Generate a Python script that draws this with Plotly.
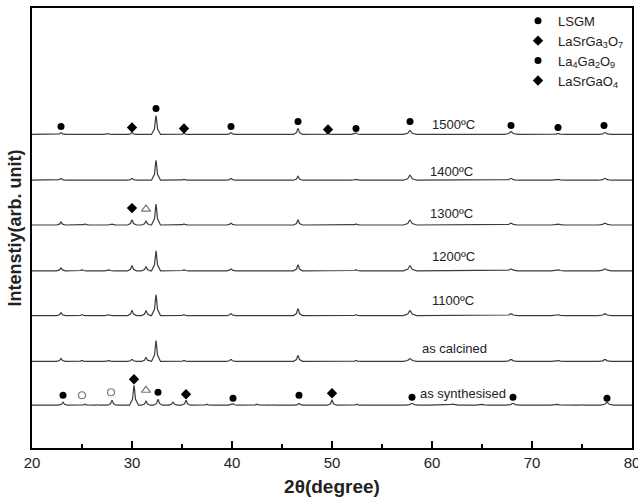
import plotly.graph_objects as go

# ---- data -----------------------------------------------------------------
TWO_THETA_RANGE = [20, 80]
PATTERN_NAMES = ["as synthesised", "as calcined", "1100ºC", "1200ºC",
                 "1300ºC", "1400ºC", "1500ºC"]
# vertical stacking offset of each pattern (arb. units)
OFFSETS = [43, 87, 133, 178, 224, 269, 315]

# reflections of each pattern: 2θ position (deg) and intensity (arb. units)
POS_SYN = [21.5, 23.1, 25.3, 26.5, 28.0, 30.2, 31.4, 32.6, 34.1, 35.4, 37.5,
           40.1, 42.5, 44.0, 46.7, 48.5, 50.0, 52.5, 55.0, 58.0, 60.5, 62.0,
           65.0, 68.1, 70.5, 72.5, 75.0, 77.5]
H_SYN = [0.5, 3, 1, 0.5, 5, 20, 4, 6, 3, 5, 1, 1.5, 1, 0.5, 2, 0.5, 5, 1,
         0.5, 2, 0.5, 1, 1, 2, 0.5, 1, 0.5, 3]

POS_CAL = [22.9, 25.0, 27.7, 30.0, 31.4, 32.4, 35.2, 37.0, 39.9, 43.5, 46.6,
           49.6, 52.4, 55.0, 57.8, 62.0, 65.5, 67.9, 72.6, 77.3]
H_CAL = [3, 1, 1, 2, 4, 21, 1, 0.5, 2, 0.5, 6, 0.5, 1, 0.5, 3, 0.5, 0.5,
         2, 1, 2]

POS_1100 = [22.9, 25.0, 27.7, 30.0, 31.4, 32.4, 35.2, 39.9, 43.5, 46.6,
            49.6, 52.4, 57.8, 62.0, 67.9, 72.6, 77.3]
H_1100 = [3, 1, 1, 5, 5, 21, 1, 2, 0.5, 7, 0.5, 1, 5, 0.5, 2, 1, 2]

POS_1200 = [22.9, 25.0, 27.7, 30.0, 31.4, 32.4, 35.2, 39.9, 43.5, 46.6,
            49.6, 52.4, 57.8, 62.0, 67.9, 72.6, 77.3]
H_1200 = [3, 1, 1, 5, 4, 20, 1, 2, 0.5, 6, 0.5, 1, 5, 0.5, 2, 1, 2]

POS_1300 = [22.9, 25.3, 28.0, 30.0, 31.4, 32.4, 35.2, 39.9, 43.5, 46.6,
            49.6, 52.4, 57.8, 62.0, 67.9, 72.6, 77.3]
H_1300 = [3, 1, 1, 5, 4, 21, 1, 2, 0.5, 5, 0.5, 1, 5, 0.5, 2, 1, 2]

POS_1400 = [22.9, 27.6, 30.0, 32.4, 35.2, 39.9, 46.6, 49.6, 52.4, 57.8,
            62.0, 67.9, 72.6, 77.3]
H_1400 = [2, 0.5, 2, 20, 1, 2, 4, 0.5, 1, 5, 0.5, 2, 1, 2]

POS_1500 = [22.9, 27.6, 30.0, 32.4, 35.2, 39.9, 43.5, 46.6, 49.6, 52.4,
            55.0, 57.8, 62.0, 67.9, 72.6, 77.3]
H_1500 = [2, 1, 2, 19, 1, 2, 0.5, 6, 1, 1.5, 0.5, 4, 0.5, 3, 1, 2]

PEAK_POS = [POS_SYN, POS_CAL, POS_1100, POS_1200, POS_1300, POS_1400, POS_1500]
PEAK_H = [H_SYN, H_CAL, H_1100, H_1200, H_1300, H_1400, H_1500]

# pattern label anchors (2θ, intensity above the pattern baseline)
LABEL_2THETA = [58.6, 58.8, 59.8, 59.8, 59.6, 59.6, 59.8]
LABEL_LIFT = [12, 13, 15, 14, 12, 9, 10]

# phase markers (2θ, intensity)
LSGM_2THETA = [22.9, 32.4, 39.9, 46.6, 52.4, 57.8, 67.9, 72.6, 77.2,
               23.1, 32.6, 40.1, 46.7, 58.0, 68.1, 77.5]
LSGM_I = [323, 341, 323, 328, 321, 328, 324, 322, 324,
          53, 56, 50, 53, 51, 51, 50]
LSG3_2THETA = [30.0, 35.2, 49.6, 30.0, 30.2, 35.4, 50.0]
LSG3_I = [322, 321, 320, 241, 69, 54, 55]
OPEN_CIRCLE_2THETA = [25.0, 27.9]
OPEN_CIRCLE_I = [53, 56]
OPEN_TRIANGLE_2THETA = [31.4, 31.4]
OPEN_TRIANGLE_I = [240, 58]

X_TICKS = [20, 30, 40, 50, 60, 70, 80]

# ---- figure ---------------------------------------------------------------
HALF_WIDTH = 0.45
FONT = "Liberation Sans, Arial, sans-serif"
LINE_COLOR = "#3c3c3c"
TEXT_COLOR = "#222222"


def profile(positions, heights, offset):
    """Polyline of a diffraction pattern built from its reflection list."""
    xs, ys = [TWO_THETA_RANGE[0]], [offset]
    for p, h in sorted(zip(positions, heights)):
        w = HALF_WIDTH * (1.0 + 0.5 * (p > 55))
        xs += [p - w, p - w / 3, p - w / 10, p, p + w / 10, p + w / 3, p + w]
        ys += [offset, offset + 0.3 * h, offset + 0.85 * h, offset + h,
               offset + 0.85 * h, offset + 0.3 * h, offset]
    xs.append(TWO_THETA_RANGE[1])
    ys.append(offset)
    return xs, ys


fig = go.Figure()

for pos, hts, off in zip(PEAK_POS, PEAK_H, OFFSETS):
    x, y = profile(pos, hts, off)
    fig.add_trace(go.Scatter(x=x, y=y, mode="lines",
                             line=dict(color=LINE_COLOR, width=1.2),
                             showlegend=False, hoverinfo="skip"))

fig.add_trace(go.Scatter(x=LSGM_2THETA, y=LSGM_I, mode="markers", name="LSGM",
                         marker=dict(symbol="circle", size=7, color="black")))
fig.add_trace(go.Scatter(x=LSG3_2THETA, y=LSG3_I, mode="markers",
                         name="LaSrGa<sub>3</sub>O<sub>7</sub>",
                         marker=dict(symbol="diamond", size=8, color="black")))
fig.add_trace(go.Scatter(x=[None], y=[None], mode="markers",
                         name="La<sub>4</sub>Ga<sub>2</sub>O<sub>9</sub>",
                         marker=dict(symbol="circle", size=7, color="black")))
fig.add_trace(go.Scatter(x=[None], y=[None], mode="markers",
                         name="LaSrGaO<sub>4</sub>",
                         marker=dict(symbol="diamond", size=8, color="black")))
fig.add_trace(go.Scatter(x=OPEN_CIRCLE_2THETA, y=OPEN_CIRCLE_I, mode="markers",
                         showlegend=False,
                         marker=dict(symbol="circle-open", size=7,
                                     color="#777777", line=dict(width=1.2))))
fig.add_trace(go.Scatter(x=OPEN_TRIANGLE_2THETA, y=OPEN_TRIANGLE_I,
                         mode="markers", showlegend=False,
                         marker=dict(symbol="triangle-up-open", size=8,
                                     color="#777777", line=dict(width=1.2))))

for name, x0, lift, off in zip(PATTERN_NAMES, LABEL_2THETA, LABEL_LIFT, OFFSETS):
    fig.add_annotation(x=x0, y=off + lift, text=name, showarrow=False,
                       xanchor="left", yanchor="middle",
                       font=dict(family=FONT, size=13, color=TEXT_COLOR))

fig.update_layout(
    width=638, height=502,
    margin=dict(l=32, r=6, t=6, b=54),
    paper_bgcolor="white", plot_bgcolor="white",
    font=dict(family=FONT, color=TEXT_COLOR),
    legend=dict(x=0.81, y=1.005, xanchor="left", yanchor="top",
                bgcolor="rgba(0,0,0,0)", borderwidth=0,
                font=dict(family=FONT, size=13, color=TEXT_COLOR),
                itemwidth=30, tracegroupgap=0),
    xaxis=dict(range=TWO_THETA_RANGE, tickvals=X_TICKS, automargin=False,
               ticks="inside", ticklen=7, tickwidth=1.5, tickcolor="black",
               minor=dict(dtick=5, ticks="inside", ticklen=4, tickwidth=1.5,
                          tickcolor="black", showgrid=False),
               showline=True, linecolor="black", linewidth=2, mirror=True,
               showgrid=False, zeroline=False, ticklabeloverflow="allow",
               tickfont=dict(family=FONT, size=15, color=TEXT_COLOR),
               title=dict(text="<b>2θ(degree)</b>", standoff=10,
                          font=dict(family=FONT, size=19, color=TEXT_COLOR))),
    yaxis=dict(range=[0, 442], showticklabels=False, ticks="", automargin=False,
               showline=True, linecolor="black", linewidth=2, mirror=True,
               showgrid=False, zeroline=False,
               title=dict(text="<b>Intenstiy(arb. unit)</b>", standoff=4,
                          font=dict(family=FONT, size=18, color=TEXT_COLOR))),
)

fig.write_html("out.html")
